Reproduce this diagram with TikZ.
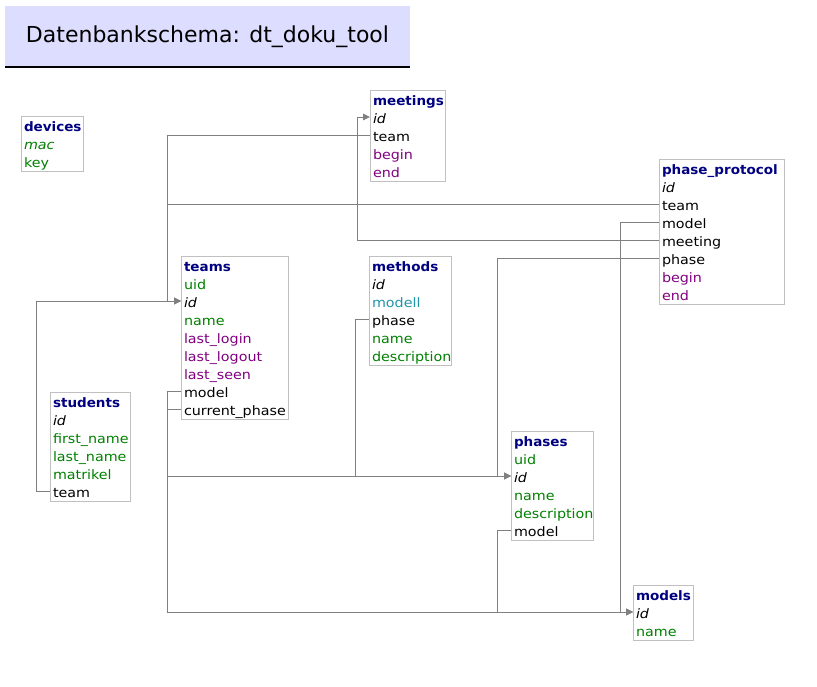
\documentclass[tikz,border=0pt]{standalone}
\usepackage{fontspec}
\setmainfont[FakeStretch=1.1]{DejaVu Sans}
\newfontfamily\titlefont{DejaVu Sans}
\newfontfamily\hdfont[FakeStretch=1.04]{DejaVu Sans}
\usetikzlibrary{arrows.meta}
\definecolor{hdr}{HTML}{000080}
\definecolor{fgreen}{HTML}{008000}
\definecolor{fpurple}{HTML}{800080}
\definecolor{fteal}{HTML}{2096A8}
\definecolor{boxgray}{HTML}{C0C0C0}
\definecolor{linegray}{HTML}{808080}
\definecolor{titlefill}{HTML}{DDDDFF}
\begin{document}
\begin{tikzpicture}[x=0.75pt,y=-0.75pt,
  tbl/.style={draw=boxgray, line width=0.75pt, fill=white, anchor=north west, inner sep=0pt, outer sep=0pt},
  row/.style={anchor=west, inner xsep=2.25pt, inner ysep=0pt, outer sep=0pt, text height=10.5pt, text depth=1.5pt, font=\fontsize{9.75pt}{11pt}\selectfont, text=black},
  hd/.style={row, font=\hdfont\fontsize{9.75pt}{11pt}\selectfont\bfseries, text=hdr},
  pk/.style={row, font=\fontsize{9.75pt}{11pt}\selectfont\itshape},
  gr/.style={row, text=fgreen},
  pu/.style={row, text=fpurple},
  te/.style={row, text=fteal},
  lnk/.style={draw=linegray, line width=0.75pt},
  fk/.style={lnk, -{Triangle[length=5.25pt,width=5pt]}}
]
\useasboundingbox (0,0) rectangle (817,686);
\fill[white] (0,0) rectangle (817,686);

% title
\node[fill=titlefill, anchor=north west, inner sep=0pt, outer sep=0pt,
      minimum width={405*0.75pt}, minimum height={61*0.75pt},
      font=\titlefont\fontsize{16.5pt}{20pt}\selectfont] (title) at (5,6) {Datenbankschema: dt\_doku\_tool};
\draw[black, line width=0.9pt] (title.south west) -- (title.south east);

% devices
\node[tbl, minimum width={62*0.75pt}, minimum height={55*0.75pt}] (devices) at (21,116) {};
\node[hd] (devices-h) at (21,125) {devices};
\node[pk, text=fgreen] (devices-mac) at (21,143) {mac};
\node[gr] (devices-key) at (21,161) {key};

% meetings
\node[tbl, minimum width={75*0.75pt}, minimum height={91*0.75pt}] (meetings) at (370,90) {};
\node[hd] (meetings-h) at (370,99) {meetings};
\node[pk] (meetings-id) at (370,117) {id};
\node[row] (meetings-team) at (370,135) {team};
\node[pu] (meetings-begin) at (370,153) {begin};
\node[pu] (meetings-end) at (370,171) {end};

% phase_protocol
\node[tbl, minimum width={125*0.75pt}, minimum height={145*0.75pt}] (pp) at (659,159) {};
\node[hd] (pp-h) at (659,168) {phase\_protocol};
\node[pk] (pp-id) at (659,186) {id};
\node[row] (pp-team) at (659,204) {team};
\node[row] (pp-model) at (659,222) {model};
\node[row] (pp-meeting) at (659,240) {meeting};
\node[row] (pp-phase) at (659,258) {phase};
\node[pu] (pp-begin) at (659,276) {begin};
\node[pu] (pp-end) at (659,294) {end};

% teams
\node[tbl, minimum width={107*0.75pt}, minimum height={163*0.75pt}] (teams) at (181,256) {};
\node[hd] (teams-h) at (181,265) {teams};
\node[gr] (teams-uid) at (181,283) {uid};
\node[pk] (teams-id) at (181,301) {id};
\node[gr] (teams-name) at (181,319) {name};
\node[pu] (teams-ll) at (181,337) {last\_login};
\node[pu] (teams-lo) at (181,355) {last\_logout};
\node[pu] (teams-ls) at (181,373) {last\_seen};
\node[row] (teams-model) at (181,391) {model};
\node[row] (teams-cp) at (181,409) {current\_phase};

% methods
\node[tbl, minimum width={82*0.75pt}, minimum height={109*0.75pt}] (methods) at (369,256) {};
\node[hd] (methods-h) at (369,265) {methods};
\node[pk] (methods-id) at (369,283) {id};
\node[te] (methods-modell) at (369,301) {modell};
\node[row] (methods-phase) at (369,319) {phase};
\node[gr] (methods-name) at (369,337) {name};
\node[gr] (methods-desc) at (369,355) {description};

% students
\node[tbl, minimum width={80*0.75pt}, minimum height={109*0.75pt}] (students) at (50,392) {};
\node[hd] (students-h) at (50,401) {students};
\node[pk] (students-id) at (50,419) {id};
\node[gr] (students-fn) at (50,437) {first\_name};
\node[gr] (students-ln) at (50,455) {last\_name};
\node[gr] (students-mat) at (50,473) {matrikel};
\node[row] (students-team) at (50,491) {team};

% phases
\node[tbl, minimum width={82*0.75pt}, minimum height={109*0.75pt}] (phases) at (511,431) {};
\node[hd] (phases-h) at (511,440) {phases};
\node[gr] (phases-uid) at (511,458) {uid};
\node[pk] (phases-id) at (511,476) {id};
\node[gr] (phases-name) at (511,494) {name};
\node[gr] (phases-desc) at (511,512) {description};
\node[row] (phases-model) at (511,530) {model};

% models
\node[tbl, minimum width={60*0.75pt}, minimum height={55*0.75pt}] (models) at (633,585) {};
\node[hd] (models-h) at (633,594) {models};
\node[pk] (models-id) at (633,612) {id};
\node[gr] (models-name) at (633,630) {name};

% bus coordinates
\coordinate (xA) at (167,0);
\coordinate (xB) at (36,0);
\coordinate (xC) at (357,0);
\coordinate (xD) at (355,0);
\coordinate (xE) at (497,0);
\coordinate (xF) at (620,0);

% connectors
\draw[fk] (meetings-team.west) -- (meetings-team.west -| xA) |- (teams-id.west);
\draw[fk] (pp-team.west) -- (pp-team.west -| xA) |- (teams-id.west);
\draw[fk] (students-team.west) -- (students-team.west -| xB) |- (teams-id.west);
\draw[fk] (pp-meeting.west) -- (pp-meeting.west -| xC) |- (meetings-id.west);
\draw[fk] (methods-phase.west) -- (methods-phase.west -| xD) |- (phases-id.west);
\draw[fk] (teams-cp.west) -- (teams-cp.west -| xA) |- (phases-id.west);
\draw[fk] (pp-phase.west) -- (pp-phase.west -| xE) |- (phases-id.west);
\draw[fk] (teams-model.west) -- (teams-model.west -| xA) |- (models-id.west);
\draw[fk] (phases-model.west) -- (phases-model.west -| xE) |- (models-id.west);
\draw[fk] (pp-model.west) -- (pp-model.west -| xF) |- (models-id.west);
\end{tikzpicture}
\end{document}
